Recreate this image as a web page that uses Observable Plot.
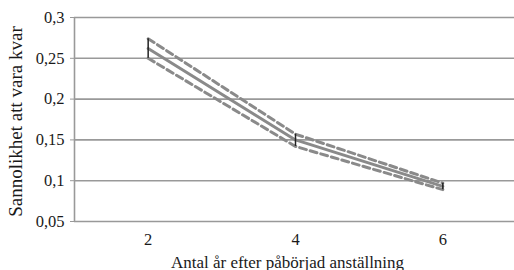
<!DOCTYPE html>
<html>
<head>
<meta charset="utf-8">
<script src="https://cdn.jsdelivr.net/npm/d3@7"></script>
<script src="https://cdn.jsdelivr.net/npm/@observablehq/plot@0.6"></script>
<style>
  body { margin: 0; background: #fff; }
</style>
</head>
<body>
<div id="chart"></div>
<script>
const years = [2, 4, 6];
const meanVals = [0.262, 0.150, 0.093];
const upperVals = [0.274, 0.157, 0.097];
const lowerVals = [0.250, 0.142, 0.089];
const yTicks = [0.05, 0.1, 0.15, 0.2, 0.25, 0.3];
const yTickLabels = ["0,05", "0,1", "0,15", "0,2", "0,25", "0,3"];
const xLabel = "Antal år efter påbörjad anställning";
const yLabel = "Sannolikhet att vara kvar";

const data = years.map((x, i) => ({x, mean: meanVals[i], upper: upperVals[i], lower: lowerVals[i]}));

const chart = Plot.plot({
  width: 514,
  height: 270,
  marginLeft: 74,
  marginTop: 17,
  marginBottom: 49,
  marginRight: 0,
  x: {domain: [1, 7], range: [74, 516]},
  y: {domain: [0.05, 0.3]},
  style: "font-family: 'Liberation Serif', serif; font-size: 16px; color: #1a1a1a; background: #fff;",
  marks: [
    Plot.gridY(yTicks, {stroke: "#999", strokeOpacity: 1, strokeWidth: 1.6}),
    Plot.ruleX([1], {y1: 0.05, y2: 0.3, stroke: "#999", strokeWidth: 1.6}),
    Plot.axisY(yTicks, {tickFormat: (d, i) => yTickLabels[i], tickSize: 4, tickPadding: 6, stroke: "#999", label: null, fontSize: 16.5, fontFamily: "Liberation Serif"}),
    Plot.axisX(years, {tickSize: 0, tickPadding: 12, label: null, fontSize: 16.5, fontFamily: "Liberation Serif"}),
    Plot.text([xLabel], {frameAnchor: "bottom", dx: -7, dy: 46, fontSize: 17, fontFamily: "Liberation Serif", textAnchor: "middle", lineAnchor: "bottom"}),
    Plot.text([yLabel], {frameAnchor: "left", dx: -59, dy: 2, rotate: -90, fontSize: 19, fontFamily: "Liberation Serif", textAnchor: "middle"}),
    Plot.line(data, {x: "x", y: "upper", stroke: "#8a8a8a", strokeWidth: 3, strokeDasharray: "7,4"}),
    Plot.line(data, {x: "x", y: "lower", stroke: "#8a8a8a", strokeWidth: 3, strokeDasharray: "7,4"}),
    Plot.line(data, {x: "x", y: "mean", stroke: "#8a8a8a", strokeWidth: 3}),
    Plot.ruleX(data, {x: "x", y1: "lower", y2: "upper", stroke: "#222", strokeWidth: 1.5})
  ]
});
document.getElementById("chart").appendChild(chart);
</script>
</body>
</html>
